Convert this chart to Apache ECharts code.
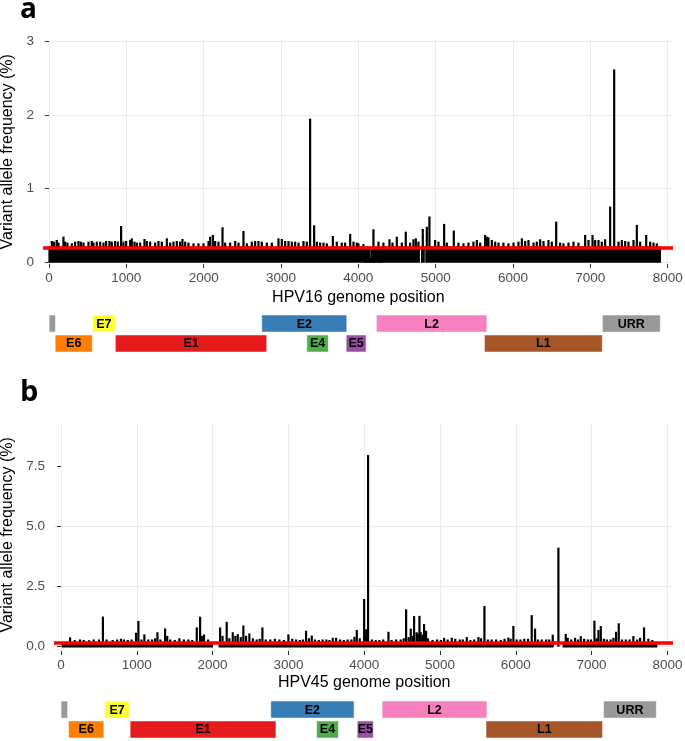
<!DOCTYPE html>
<html><head><meta charset="utf-8">
<script src="https://cdn.jsdelivr.net/npm/echarts@6/dist/echarts.min.js"></script>
<style>html,body{margin:0;padding:0;background:#fff}#c{width:685px;height:741px}</style>
</head><body><div id="c"></div>
<script>
// ---------- Panel a : HPV16 ----------
const posA = [35,65,99,121,185,207,237,293,336,379,410,444,509,552,573,616,660,703,737,780,810,853,888,931,961,996,1048,1069,1104,1134,1177,1233,1263,1306,1371,1414,1457,1522,1565,1608,1651,1694,1724,1759,1802,1867,1931,1996,2061,2082,2117,2147,2190,2242,2276,2341,2406,2449,2513,2557,2621,2664,2707,2750,2815,2880,2966,3009,3052,3095,3138,3181,3225,3289,3332,3375,3427,3462,3505,3548,3591,3669,3720,3785,3828,3893,3936,3979,
4000,4065,4194,4259,4323,4401,4440,4496,4561,4612,4668,4711,4742,4776,4832,4884,4918,4992,5035,5108,5143,5233,5293,5358,5423,5487,5531,5574,5638,5660,5681,5725,5768,5811,5875,5940,6005,6069,6113,6156,6199,6264,6306,6350,6393,6457,6500,6557,6608,6651,6716,6781,6845,6932,6975,7027,7061,7104,7147,7190,7255,7307,7363,7406,7449,7492,7557,7600,7643,7721,7772,7815,7858];
const vafA = [0.286,0.277,0.30,0.264,0.345,0.277,0.264,0.254,0.277,0.286,0.277,0.264,0.277,0.286,0.264,0.277,0.277,0.264,0.286,0.286,0.277,0.286,0.277,0.49,0.277,0.286,0.30,0.322,0.277,0.264,0.264,0.313,0.286,0.277,0.264,0.286,0.277,0.322,0.264,0.277,0.286,0.277,0.313,0.277,0.264,0.254,0.254,0.254,0.286,0.345,0.368,0.286,0.277,0.472,0.264,0.264,0.286,0.264,0.422,0.254,0.277,0.286,0.286,0.277,0.264,0.264,0.322,0.313,0.286,0.286,0.277,0.277,0.264,0.286,0.277,1.95,0.50,0.277,0.264,0.264,0.254,0.354,0.277,0.264,0.264,0.381,0.277,0.264,
0.254,0.245,0.445,0.277,0.264,0.309,0.264,0.345,0.264,0.413,0.264,0.309,0.322,0.277,0.45,0.48,0.62,0.30,0.277,0.518,0.264,0.427,0.264,0.254,0.264,0.277,0.30,0.264,0.368,0.345,0.336,0.30,0.277,0.264,0.264,0.254,0.264,0.277,0.322,0.286,0.30,0.264,0.277,0.309,0.286,0.30,0.277,0.549,0.264,0.254,0.264,0.277,0.264,0.368,0.30,0.368,0.30,0.30,0.277,0.309,0.754,2.62,0.277,0.30,0.286,0.277,0.30,0.504,0.277,0.368,0.277,0.264,0.254];
const blockStartA  = [1,   4090,4105,4150,4170,4190,4205,4260,4280,4300,4819,4876];
const blockEndA    = [4090,4105,4150,4170,4190,4205,4260,4280,4300,4786,4850,7905];
const blockHeightA = [0.2, 0.12,0.2, 0.05,0.16,0.06,0.2, 0.13,0.16,0.2, 0.2, 0.2];
const thresholdA = 0.2;
const yTicksA = [0, 1, 2, 3];

// ---------- Panel b : HPV45 ----------
const posB = [119,180,250,300,370,430,500,552,600,680,740,790,830,880,930,989,1020,1060,1099,1150,1200,1240,1271,1310,1372,1400,1440,1500,1560,1620,1680,1730,1790,1834,1860,1886,1940,2098,2130,2185,2220,2265,2300,2331,2370,2405,2440,2484,2530,2580,2620,2656,2700,2760,2820,2880,2940,2999,3050,3100,3150,3190,3232,3270,3307,3350,3400,3450,3500,3540,3584,3628,3680,3730,3780,3830,3870,3901,3940,3998,4024,4050,4100,4150,4200,4250,4319,4360,4420,4480,4520,4552,4585,4613,4640,4657,4690,4706,4728,4745,4770,4789,4815,4840,4900,4960,5010,5053,5100,5154,5200,5260,5300,5352,5400,5450,5506,5540,5585,5630,5680,5740,5800,5850,5900,5930,5967,6010,6060,6110,6160,6209,6253,6290,6340,6400,6440,6486,6561,6658,6684,6730,6781,6820,6856,6900,6950,6990,7036,7065,7089,7120,7160,7200,7250,7287,7322,7357,7400,7450,7500,7550,7600,7638,7691,7748,7800];
const vafB = [0.39,0.28,0.3,0.28,0.27,0.3,0.3,1.25,0.3,0.28,0.3,0.33,0.3,0.28,0.3,0.58,1.07,0.3,0.51,0.3,0.3,0.35,0.6,0.3,0.76,0.45,0.3,0.28,0.35,0.3,0.3,0.28,0.8,1.245,0.45,0.51,0.3,0.80,0.45,1.03,0.35,0.6,0.45,0.52,0.4,0.88,0.45,0.55,0.35,0.3,0.33,0.80,0.3,0.3,0.33,0.3,0.28,0.51,0.33,0.3,0.28,0.3,0.66,0.35,0.46,0.3,0.28,0.3,0.3,0.28,0.37,0.37,0.3,0.28,0.3,0.3,0.41,0.69,0.35,1.98,0.72,7.95,0.3,0.28,0.28,0.3,0.62,0.28,0.3,0.3,0.35,1.55,0.4,0.75,0.45,1.27,0.6,0.55,1.28,0.6,0.5,0.94,0.66,0.35,0.28,0.3,0.28,0.37,0.3,0.37,0.33,0.3,0.3,0.4,0.28,0.3,0.4,0.35,1.69,0.3,0.3,0.3,0.28,0.33,0.38,0.33,0.86,0.3,0.3,0.33,0.33,1.31,0.75,0.3,0.3,0.3,0.3,0.5,4.11,0.53,0.37,0.3,0.37,0.3,0.44,0.33,0.3,0.3,1.08,0.35,0.69,0.86,0.33,0.3,0.3,0.37,0.62,0.97,0.3,0.3,0.3,0.44,0.3,0.37,0.80,0.33,0.28];
const blockStartB  = [17,  2088, 6627];
const blockEndB    = [1996,6487, 7858];
const blockHeightB = [0.1, 0.1,  0.1];
const thresholdB = 0.15;
const yTicksB = [0, 2.5, 5, 7.5];

const xTicks = [0,1000,2000,3000,4000,5000,6000,7000,8000];

// ---------- Genome annotation ----------
const geneNames  = ['',      'E6',     'E7',     'E1',     'E2',     'E4',     'E5',     'L2',     'L1',     'URR'];
const geneColors = ['#999999','#FF7F00','#FFFF33','#E41A1C','#377EB8','#4DAF4A','#984EA3','#F781BF','#A65628','#999999'];
const geneRows   = [1,0,1,0,1,0,0,1,0,1]; // 1 = upper row
const geneStartA = [1,  79, 560,857, 2751,3333,3842,4233,5630,7155];
const geneEndA   = [83, 560,857,2816,3851,3612,4101,5662,7155,7905];
const geneStartB = [1,  100,578,912, 2767,3372,3908,4236,5607,7157];
const geneEndB   = [88, 566,901,2836,3867,3660,4121,5619,7145,7854];

// ---------- helpers ----------
const FONT = '"Liberation Sans", Arial, Helvetica, sans-serif';
function blockItem(params, api){
  const p0 = api.coord([api.value(0), 0]);
  const p1 = api.coord([api.value(1), api.value(2)]);
  return {type:'rect', shape:{x:p0[0], y:p1[1], width:p1[0]-p0[0], height:p0[1]-p1[1]},
          style:{fill:'#000', stroke:'#000', lineWidth:1.4}};
}
function spikeItem(params, api){
  const p0 = api.coord([api.value(0), 0]);
  const p1 = api.coord([api.value(0), api.value(1)]);
  return {type:'rect', shape:{x:p0[0]-1, y:p1[1], width:2.2, height:p0[1]-p1[1]},
          style:{fill:'#000'}};
}
function geneItem(params, api){
  const s = api.value(0), e = api.value(1), row = api.value(2), idx = api.value(3);
  const yTop = row === 1 ? 2 : 0.95, yBot = row === 1 ? 1.1 : 0.05;
  const p0 = api.coord([s, yTop]), p1 = api.coord([e, yBot]);
  const w = p1[0]-p0[0], h = p1[1]-p0[1];
  return {type:'group', children:[
    {type:'rect', shape:{x:p0[0], y:p0[1], width:w, height:h},
     style:{fill:geneColors[idx], stroke:'rgba(255,255,255,0.55)', lineWidth:1}},
    {type:'text', style:{text:geneNames[idx], x:p0[0]+w/2, y:p0[1]+h/2+0.5, align:'center', verticalAlign:'middle',
      fill:'#000', fontSize:12.5, fontWeight:'bold', fontFamily:FONT}}
  ]};
}
const zip2 = (a,b) => a.map((v,i)=>[v,b[i]]);
const zip3 = (a,b,c) => a.map((v,i)=>[v,b[i],c[i]]);
const geneData = (s,e) => s.map((v,i)=>[v,e[i],geneRows[i],i]);

const tickLabel = {color:'#4d4d4d', fontSize:13.5, fontFamily:FONT};
const gridLine = {color:'#ebebeb', width:1};
const hidden = {show:false};
const G = (o) => Object.assign({outerBoundsMode:'none', containLabel:false}, o);

const option = {
  animation:false,
  backgroundColor:'#fff',
  grid:[
    G({left:43, right:12, top:41.5, bottom:741-262}),   // 0 data a
    G({left:49, right:17.3, top:40, bottom:741-264}),   // 1 axis a
    G({left:43, right:12, top:315, height:38}),         // 2 genes a
    G({left:54, right:12, top:423, bottom:741-646.7}),  // 3 data b
    G({left:61, right:17.6, top:423, bottom:741-651}),  // 4 axis b
    G({left:54, right:12, top:701, height:38})          // 5 genes b
  ],
  xAxis:[
    {gridIndex:0, type:'value', min:-78, max:8069, show:false},
    {gridIndex:1, type:'value', min:xTicks[0], max:xTicks[xTicks.length-1], interval:xTicks[1]-xTicks[0],
     axisLine:hidden, axisTick:{show:true, length:4, lineStyle:{color:'#333'}},
     axisLabel:Object.assign({margin:7, formatter:v=>String(v)}, tickLabel),
     splitLine:{show:true, lineStyle:gridLine}, name:'HPV16 genome position', nameLocation:'middle', nameGap:26,
     nameTextStyle:{color:'#000', fontSize:16, fontFamily:FONT}},
    {gridIndex:2, type:'value', min:-78, max:8069, show:false},
    {gridIndex:3, type:'value', min:-92, max:8074, show:false},
    {gridIndex:4, type:'value', min:xTicks[0], max:xTicks[xTicks.length-1], interval:xTicks[1]-xTicks[0],
     axisLine:hidden, axisTick:{show:true, length:4, lineStyle:{color:'#333'}},
     axisLabel:Object.assign({margin:7, formatter:v=>String(v)}, tickLabel),
     splitLine:{show:true, lineStyle:gridLine}, name:'HPV45 genome position', nameLocation:'middle', nameGap:24,
     nameTextStyle:{color:'#000', fontSize:16, fontFamily:FONT}},
    {gridIndex:5, type:'value', min:-92, max:8074, show:false}
  ],
  yAxis:[
    {gridIndex:0, type:'value', min:yTicksA[0], max:yTicksA[yTicksA.length-1], interval:yTicksA[1]-yTicksA[0],
     axisLine:hidden, axisTick:{show:true, length:4, lineStyle:{color:'#333'}},
     axisLabel:Object.assign({margin:9}, tickLabel), splitLine:{show:true, lineStyle:gridLine},
     name:'Variant allele frequency (%)', nameLocation:'middle', nameGap:26,
     nameTextStyle:{color:'#000', fontSize:16, fontFamily:FONT}},
    {gridIndex:1, type:'value', min:0, max:1, show:false},
    {gridIndex:2, type:'value', min:0, max:2, show:false},
    {gridIndex:3, type:'value', min:yTicksB[0], max:9.28, interval:yTicksB[1]-yTicksB[0],
     axisLine:hidden, axisTick:{show:true, length:4, customValues:yTicksB, lineStyle:{color:'#333'}},
     axisLabel:Object.assign({margin:9, customValues:yTicksB, formatter:v=>v.toFixed(1)}, tickLabel),
     splitLine:{show:true, showMaxLine:false, lineStyle:gridLine},
     name:'Variant allele frequency (%)', nameLocation:'middle', nameGap:37,
     nameTextStyle:{color:'#000', fontSize:16, fontFamily:FONT}},
    {gridIndex:4, type:'value', min:0, max:1, show:false},
    {gridIndex:5, type:'value', min:0, max:2, show:false}
  ],
  series:[
    {type:'custom', xAxisIndex:0, yAxisIndex:0, renderItem:blockItem, data:zip3(blockStartA,blockEndA,blockHeightA), z:3},
    {type:'custom', xAxisIndex:0, yAxisIndex:0, renderItem:spikeItem, data:zip2(posA,vafA), z:3},
    {type:'line', xAxisIndex:0, yAxisIndex:0, data:[], z:10,
     markLine:{silent:true, symbol:['none','none'], label:{show:false},
       lineStyle:{color:'#ff0000', width:3.5, type:'solid'}, data:[{yAxis:thresholdA}]}},
    {type:'custom', xAxisIndex:2, yAxisIndex:2, renderItem:geneItem, data:geneData(geneStartA,geneEndA)},
    {type:'custom', xAxisIndex:3, yAxisIndex:3, renderItem:blockItem, data:zip3(blockStartB,blockEndB,blockHeightB), z:3},
    {type:'custom', xAxisIndex:3, yAxisIndex:3, renderItem:spikeItem, data:zip2(posB,vafB), z:3},
    {type:'line', xAxisIndex:3, yAxisIndex:3, data:[], z:10,
     markLine:{silent:true, symbol:['none','none'], label:{show:false},
       lineStyle:{color:'#ff0000', width:3.5, type:'solid'}, data:[{yAxis:thresholdB}]}},
    {type:'custom', xAxisIndex:5, yAxisIndex:5, renderItem:geneItem, data:geneData(geneStartB,geneEndB)}
  ],
  graphic:[
    {type:'text', left:20, top:-4, style:{text:'a', fontSize:28, fontWeight:'bold', fontFamily:'"Open Sans", sans-serif', fill:'#000'}},
    {type:'text', left:20, top:378, style:{text:'b', fontSize:29, fontWeight:'bold', fontFamily:'"Open Sans", sans-serif', fill:'#000'}}
  ]
};
const chart = echarts.init(document.getElementById('c'), null, {renderer:'canvas'});
chart.setOption(option);
</script></body></html>
